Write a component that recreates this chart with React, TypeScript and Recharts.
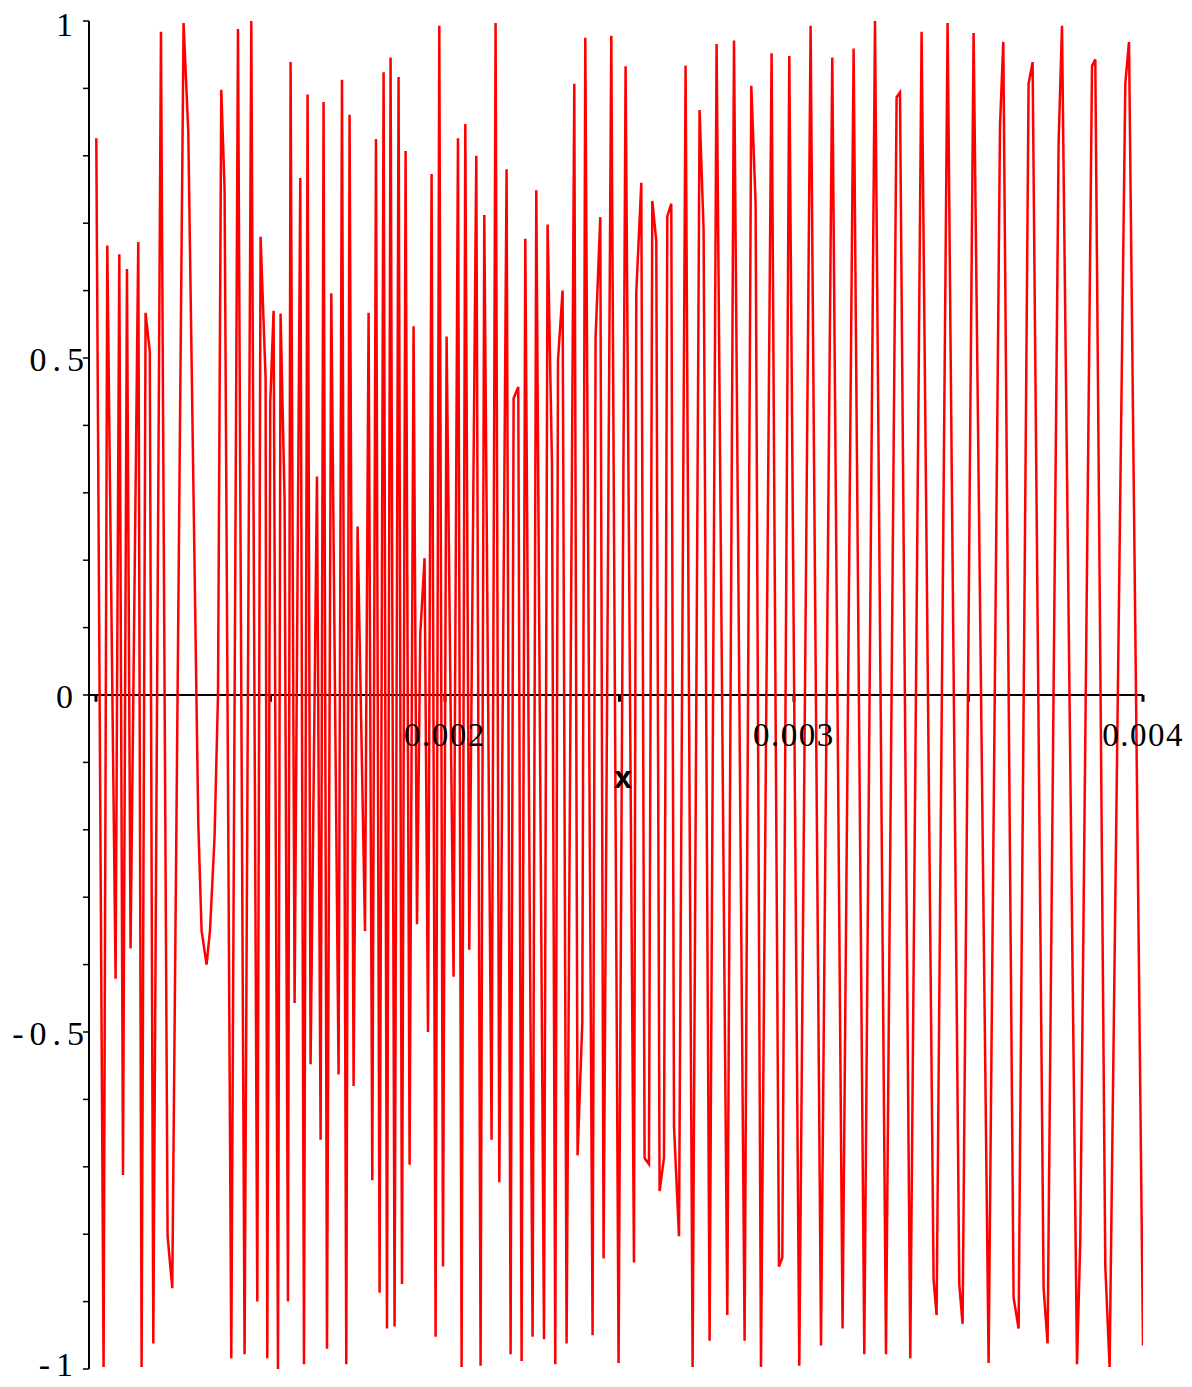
import { LineChart, Line, XAxis, YAxis, ReferenceLine, ReferenceDot } from "recharts";

// vertices of the plotted curve
const xValues = [
    1.0009e-3, 1.0218e-3, 1.0324e-3, 1.0562e-3, 1.0668e-3, 1.0774e-3, 1.0888e-3, 1.0991e-3, 1.1212e-3, 1.1307e-3,
    1.1421e-3, 1.1542e-3, 1.1642e-3, 1.1862e-3, 1.2052e-3, 1.2186e-3, 1.2510e-3, 1.2645e-3, 1.2931e-3, 1.3026e-3,
    1.3169e-3, 1.3266e-3, 1.3398e-3, 1.3496e-3, 1.3590e-3, 1.3685e-3, 1.3877e-3, 1.4069e-3, 1.4258e-3, 1.4450e-3,
    1.4622e-3, 1.4716e-3, 1.4860e-3, 1.4908e-3, 1.4994e-3, 1.5089e-3, 1.5215e-3, 1.5289e-3, 1.5404e-3, 1.5501e-3,
    1.5576e-3, 1.5691e-3, 1.5854e-3, 1.5960e-3, 1.6063e-3, 1.6149e-3, 1.6332e-3, 1.6436e-3, 1.6521e-3, 1.6619e-3,
    1.6742e-3, 1.6951e-3, 1.7049e-3, 1.7172e-3, 1.7266e-3, 1.7381e-3, 1.7496e-3, 1.7708e-3, 1.7811e-3, 1.7917e-3,
    1.8023e-3, 1.8126e-3, 1.8241e-3, 1.8338e-3, 1.8441e-3, 1.8556e-3, 1.8670e-3, 1.8768e-3, 1.8871e-3, 1.8986e-3,
    1.9100e-3, 1.9198e-3, 1.9292e-3, 1.9415e-3, 1.9513e-3, 1.9616e-3, 1.9731e-3, 1.9837e-3, 1.9943e-3, 2.0046e-3,
    2.0246e-3, 2.0372e-3, 2.0476e-3, 2.0582e-3, 2.0696e-3, 2.0897e-3, 2.1020e-3, 2.1126e-3, 2.1335e-3, 2.1450e-3,
    2.1556e-3, 2.1765e-3, 2.1880e-3, 2.1966e-3, 2.2043e-3, 2.2100e-3, 2.2195e-3, 2.2301e-3, 2.2510e-3, 2.2616e-3,
    2.2837e-3, 2.2940e-3, 2.3066e-3, 2.3160e-3, 2.3238e-3, 2.3370e-3, 2.3484e-3, 2.3705e-3, 2.3799e-3, 2.3934e-3,
    2.4020e-3, 2.4229e-3, 2.4315e-3, 2.4450e-3, 2.4544e-3, 2.4765e-3, 2.4974e-3, 2.5175e-3, 2.5415e-3, 2.5481e-3,
    2.5625e-3, 2.5719e-3, 2.5845e-3, 2.5940e-3, 2.6054e-3, 2.6149e-3, 2.6275e-3, 2.6370e-3, 2.6484e-3, 2.6562e-3,
    2.6705e-3, 2.6894e-3, 2.7095e-3, 2.7295e-3, 2.7410e-3, 2.7582e-3, 2.7782e-3, 2.8089e-3, 2.8281e-3, 2.8585e-3,
    2.8777e-3, 2.8900e-3, 2.9054e-3, 2.9358e-3, 2.9570e-3, 2.9665e-3, 2.9865e-3, 3.0152e-3, 3.0476e-3, 3.0774e-3,
    3.1097e-3, 3.1392e-3, 3.1708e-3, 3.2014e-3, 3.2321e-3, 3.2636e-3, 3.2940e-3, 3.3037e-3, 3.3332e-3, 3.3656e-3,
    3.4000e-3, 3.4086e-3, 3.4401e-3, 3.4736e-3, 3.4831e-3, 3.5146e-3, 3.5576e-3, 3.5903e-3, 3.5997e-3, 3.6292e-3,
    3.6436e-3, 3.6722e-3, 3.6837e-3, 3.7152e-3, 3.7266e-3, 3.7582e-3, 3.7679e-3, 3.8109e-3, 3.8203e-3, 3.8539e-3,
    3.8633e-3, 3.8920e-3, 3.9043e-3, 3.9493e-3, 3.9599e-3, 4.0000e-3,
];

const yValues = [
    0.826, -0.997, 0.667, -0.421, 0.654, -0.712, 0.632, -0.376, 0.672, -0.997,
    0.567, 0.51, -0.962, 0.984, -0.803, -0.88, 0.997, 0.835, -0.19, -0.35,
    -0.40, -0.35, -0.21, 0.0, 0.898, 0.75, -0.984, 0.988, -0.978, 1.0,
    -0.90, 0.68, 0.47, -0.984, 0.434, 0.57, -1.0, 0.566, 0.29, -0.90,
    0.939, -0.457, 0.767, -0.993, 0.891, -0.548, 0.324, -0.66, 0.88, -0.97,
    0.596, -0.563, 0.913, -0.993, 0.861, -0.58, 0.25, -0.35, 0.567, -0.72,
    0.825, -0.887, 0.924, -0.94, 0.946, -0.937, 0.917, -0.874, 0.807, -0.697,
    0.547, -0.34, 0.09, 0.203, -0.50, 0.773, -0.952, 0.993, -0.848, 0.532,
    -0.418, 0.826, -0.997, 0.847, -0.378, 0.80, -0.995, 0.712, -0.66, 0.997,
    -0.723, 0.78, -0.978, 0.44, 0.45, 0.457, -0.988, 0.677, -0.952, 0.749,
    -0.956, 0.698, 0.34, -0.993, 0.497, 0.60, -0.962, 0.907, -0.683, -0.486,
    0.975, -0.95, 0.53, 0.709, -0.836, 0.978, -0.991, 0.933, -0.842, 0.597,
    0.76, -0.687, -0.696, 0.733, 0.674, -0.736, -0.687, 0.71, 0.729, -0.64,
    -0.803, 0.934, -0.997, 0.868, 0.69, -0.958, 0.966, -0.92, 0.971, -0.958,
    0.904, 0.73, -0.997, 0.952, -0.848, -0.835, 0.948, -0.995, 0.993, -0.965,
    0.946, -0.94, 0.959, -0.978, 1.0, -0.978, 0.887, 0.894, -0.984, 0.984,
    -0.868, -0.92, 0.997, -0.874, -0.933, 0.982, -0.991, 0.845, 0.969, -0.894,
    -0.94, 0.907, 0.939, -0.88, -0.962, 0.82, 0.993, -0.993, -0.81, 0.933,
    0.943, -0.848, -0.997, 0.907, 0.969, -0.965,
];

const yTicks = [-1, -0.9, -0.8, -0.7, -0.6, -0.5, -0.4, -0.3, -0.2, -0.1, 0, 0.1, 0.2, 0.3, 0.4, 0.5, 0.6, 0.7, 0.8, 0.9, 1];
const yTickLabels: Record<string, string> = { "-1": "-1", "-0.5": "-0.5", "0": "0", "0.5": "0.5", "1": "1" };

const xTicks = [0.001, 0.0015, 0.002, 0.0025, 0.003, 0.0035, 0.004];
const xTickLabels = ["", "", "0.002", "", "0.003", "", "0.004"];
const xAxisTitle = "x";

const data = xValues.map((x, i) => ({ x, y: yValues[i] }));

const FONT = "'Liberation Serif', 'Times New Roman', serif";

const YTick = ({ x, y, payload }: any) => {
    const label = yTickLabels[String(payload.value)];
    if (!label) return null;
    const isInt = !label.includes(".");
    // keep the outermost labels inside the picture
    const dy = payload.value === -1 ? -5 : payload.value === 1 ? 3 : 1;
    return (
        <text
            x={isInt ? x - 2 : x + 9}
            y={y + dy}
            textAnchor="end"
            dominantBaseline="central"
            fontSize={34}
            letterSpacing={6}
            fontFamily={FONT}
            fill="#000"
        >
            {label}
        </text>
    );
};

const App = () => {
    return (
        <div style={{ position: "absolute", left: 0, top: 0, background: "#fff" }}>
            <LineChart
                width={1192}
                height={1387}
                data={data}
                margin={{ top: 21, right: 49, bottom: 18, left: 0 }}
            >
                <XAxis
                    dataKey="x"
                    type="number"
                    domain={[0.00098, 0.004]}
                    allowDataOverflow
                    hide
                />
                <YAxis
                    type="number"
                    domain={[-1, 1]}
                    ticks={yTicks}
                    interval={0}
                    width={89}
                    tickSize={6}
                    axisLine={{ stroke: "#000", strokeWidth: 2 }}
                    tickLine={{ stroke: "#000", strokeWidth: 1.5 }}
                    tick={<YTick />}
                />
                <ReferenceLine y={0} stroke="#000" strokeWidth={2} />
                {xTicks.map((t) => (
                    <ReferenceLine
                        key={"t" + t}
                        segment={[{ x: t, y: 0 }, { x: t, y: -0.01 }]}
                        stroke="#000"
                        strokeWidth={3}
                    />
                ))}
                {xTicks.map((t, i) =>
                    xTickLabels[i] ? (
                        <ReferenceDot
                            key={"l" + t}
                            x={t}
                            y={0}
                            r={0}
                            fill="none"
                            stroke="none"
                            label={{
                                value: xTickLabels[i],
                                position: "bottom",
                                offset: 28,
                                fill: "#000",
                                fontSize: 33,
                                letterSpacing: 1.5,
                                fontFamily: FONT,
                            }}
                        />
                    ) : null
                )}
                <ReferenceDot
                    x={0.00251}
                    y={0}
                    r={0}
                    fill="none"
                    stroke="none"
                    label={{
                        value: xAxisTitle,
                        position: "bottom",
                        offset: 70,
                        fill: "#000",
                        fontSize: 32,
                        fontWeight: "bold",
                        fontFamily: "'Liberation Sans', Arial, sans-serif",
                    }}
                />
                <Line
                    type="linear"
                    dataKey="y"
                    stroke="#ff0000"
                    strokeWidth={2.5}
                    dot={false}
                    isAnimationActive={false}
                />
            </LineChart>
        </div>
    );
};

export default App;
